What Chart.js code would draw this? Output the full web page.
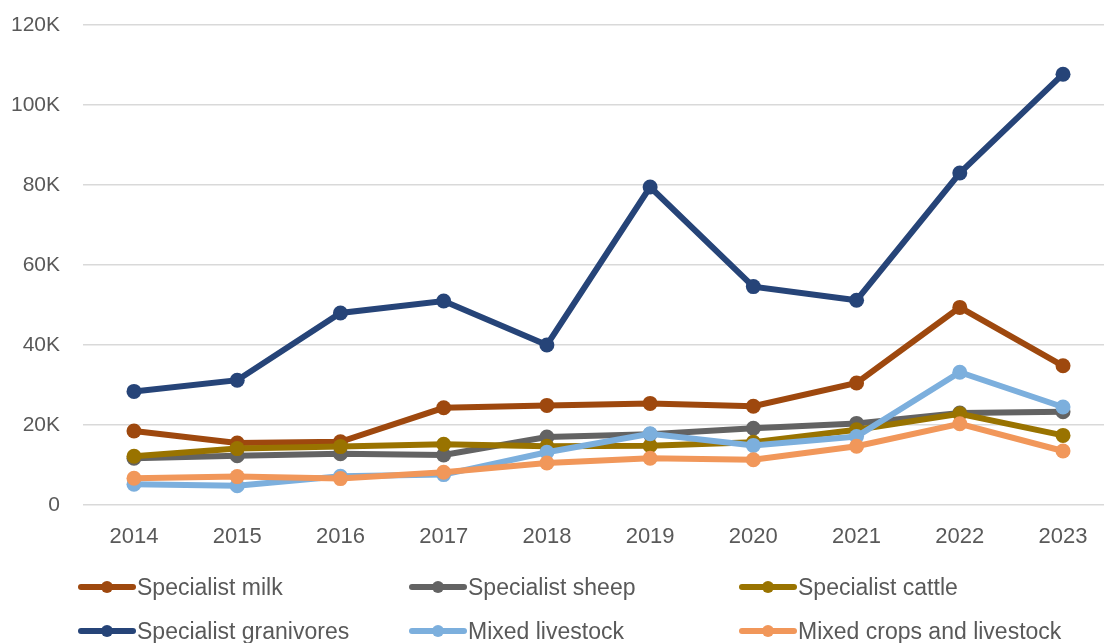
<!DOCTYPE html>
<html>
<head>
<meta charset="utf-8">
<script src="https://cdn.jsdelivr.net/npm/chart.js@4.4.1/dist/chart.umd.min.js"></script>
<style>
  body { margin: 0; background: #fff; }
  #wrap { position: relative; width: 1104px; height: 643px; overflow: hidden; }
  #legend { position: absolute; left: 0; top: 0; width: 1104px; height: 643px; pointer-events: none;
            font-family: "Liberation Sans", Arial, sans-serif; font-size: 23px; color: #595959; }
  .item { position: absolute; display: flex; align-items: center; height: 30px; white-space: nowrap; }
  .icon { position: relative; width: 58px; height: 30px; margin-right: 1px; }
  .icon .ln { position: absolute; left: 0; top: 12px; width: 58px; height: 6px; border-radius: 3px; }
  .icon .dot { position: absolute; left: 23px; top: 9px; width: 12px; height: 12px; border-radius: 50%; }
</style>
</head>
<body>
<div id="wrap">
  <canvas id="chart" width="1104" height="560"></canvas>
  <div id="legend"></div>
</div>
<script>
// categories
const years = [2014, 2015, 2016, 2017, 2018, 2019, 2020, 2021, 2022, 2023];

// series values
const specialistMilk       = [18500, 15500, 15800, 24300, 24900, 25400, 24700, 30500, 49400, 34800];
const specialistSheep      = [11700, 12300, 12800, 12500, 17000, 17700, 19200, 20400, 23000, 23300];
const specialistCattle     = [12200, 14100, 14600, 15200, 14700, 14800, 15700, 18800, 22800, 17400];
const specialistGranivores = [28400, 31200, 48000, 51000, 40000, 79500, 54600, 51200, 83000, 107700];
const mixedLivestock       = [5200, 4800, 7200, 7600, 13200, 17800, 14900, 17100, 33200, 24500];
const mixedCrops           = [6700, 7100, 6600, 8200, 10500, 11700, 11300, 14700, 20300, 13500];

// y tick labels
const yTicks = [0, 20000, 40000, 60000, 80000, 100000, 120000];
const yTickLabels = ['0', '20K', '40K', '60K', '80K', '100K', '120K'];

const seriesNames = ['Specialist milk', 'Specialist sheep', 'Specialist cattle',
                     'Specialist granivores', 'Mixed livestock', 'Mixed crops and livestock'];
const seriesValues = [specialistMilk, specialistSheep, specialistCattle,
                      specialistGranivores, mixedLivestock, mixedCrops];
const seriesColors = ['#9e480e', '#636363', '#997300', '#264478', '#7cafdd', '#f1975a'];

const datasets = seriesNames.map((name, i) => ({
  label: name,
  data: years.map((y, j) => ({ x: y, y: seriesValues[i][j] })),
  borderColor: seriesColors[i],
  backgroundColor: seriesColors[i],
  pointBackgroundColor: seriesColors[i],
  pointBorderColor: seriesColors[i],
  borderWidth: 6,
  pointRadius: 7.5,
  pointBorderWidth: 0,
  tension: 0,
  clip: false,
  order: seriesNames.length - i // later series drawn on top, like Excel
}));

const tickFont = { family: '"Liberation Sans", Arial, sans-serif', size: 21 };

new Chart(document.getElementById('chart'), {
  type: 'line',
  data: { datasets },
  options: {
    responsive: false,
    animation: false,
    devicePixelRatio: 1,
    layout: { autoPadding: false, padding: { top: 25, right: 0, left: 0, bottom: 0 } },
    plugins: { legend: { display: false }, tooltip: { enabled: false } },
    scales: {
      x: {
        type: 'linear',
        min: years[0] - 0.494,
        max: years[years.length - 1] + 0.397,
        afterBuildTicks: s => { s.ticks = years.map(v => ({ value: v })); },
        afterFit: s => { s.height = 55; s.paddingLeft = 0; s.paddingRight = 0; },
        grid: { display: false },
        border: { display: false },
        ticks: { color: '#595959', font: { family: tickFont.family, size: 22 }, padding: 11, maxRotation: 0,
                 callback: v => String(v) }
      },
      y: {
        min: 0,
        max: 120000,
        afterBuildTicks: s => { s.ticks = yTicks.map(v => ({ value: v })); },
        afterFit: s => { s.width = 83; s.paddingTop = 0; s.paddingBottom = 0; },
        grid: { color: '#d9d9d9', lineWidth: 1.5, drawTicks: false },
        border: { display: false },
        ticks: { color: '#595959', font: tickFont, padding: 23,
                 callback: v => yTickLabels[yTicks.indexOf(v)] }
      }
    }
  }
});

// HTML legend, three columns by two rows
const legend = document.getElementById('legend');
const colX = [78, 409, 739];
const rowY = [572, 616];
seriesNames.forEach((name, i) => {
  const item = document.createElement('div');
  item.className = 'item';
  item.style.left = colX[i % 3] + 'px';
  item.style.top = rowY[Math.floor(i / 3)] + 'px';
  item.innerHTML = '<span class="icon"><span class="ln" style="background:' + seriesColors[i] +
    '"></span><span class="dot" style="background:' + seriesColors[i] + '"></span></span>' +
    '<span>' + name + '</span>';
  legend.appendChild(item);
});
</script>
</body>
</html>
